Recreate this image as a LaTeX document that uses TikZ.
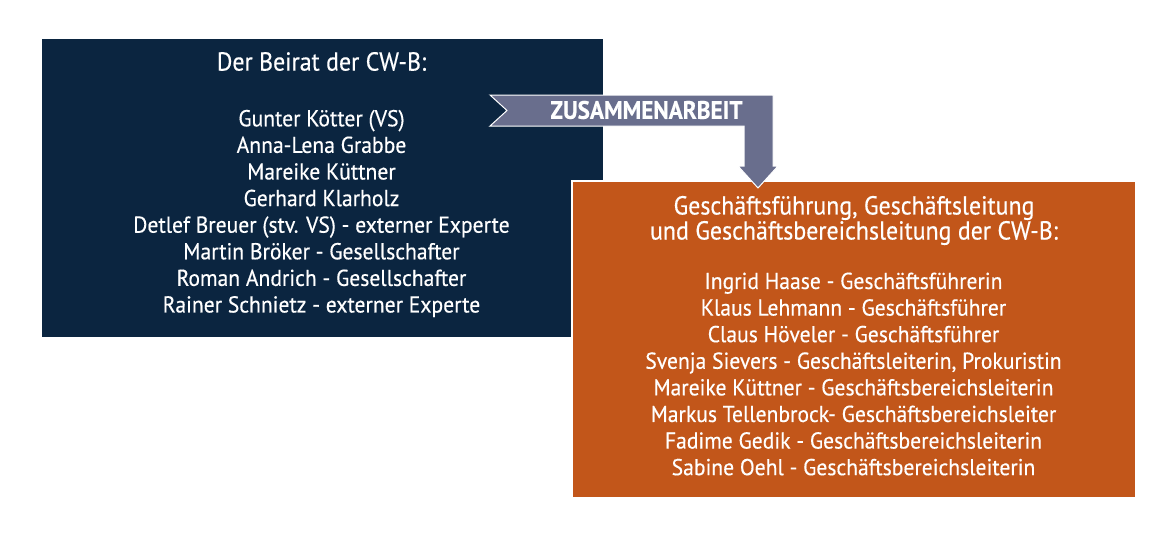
\documentclass[tikz,border=0pt]{standalone}
\usepackage{fontspec}
\setmainfont{PT Sans}[FakeStretch=0.94,FakeBold=0.4]
\newfontfamily\titlefont{PT Sans}[FakeStretch=0.92,FakeBold=0.4]
\definecolor{navy}{HTML}{0B2540}
\definecolor{rust}{HTML}{C2561A}
\definecolor{slate}{HTML}{696E8D}
\tikzset{
  boxtext/.style={text=white, align=center, inner sep=0pt},
  titletext/.style={boxtext, font=\titlefont\fontsize{26}{23}\selectfont},
  listtext/.style={boxtext, font=\fontsize{23}{26.6}\selectfont},
}
\begin{document}
\begin{tikzpicture}[x=1pt,y=-1pt]
\useasboundingbox (0,0) rectangle (1167,543);
% left box
\node[fill=navy, minimum width=561pt, minimum height=298pt, anchor=north west, inner sep=0pt] (beirat) at (42,39) {};
\node[titletext] (beirattitle) at (321.5,61.5) {Der Beirat der CW-B:};
\node[listtext] (beiratlist) at (321.5,213.5) {Gunter Kötter (VS)\\
Anna-Lena Grabbe\\
Mareike Küttner\\
Gerhard Klarholz\\
Detlef Breuer (stv. VS) - externer Experte\\
Martin Bröker - Gesellschafter\\
Roman Andrich - Gesellschafter\\
Rainer Schnietz - externer Experte};
% right box
\node[fill=rust, draw=white, line width=2pt, minimum width=564pt, minimum height=317pt, anchor=north west, inner sep=0pt] (gf) at (571,179.5) {};
\node[titletext] (gftitle) at (854,220.5) {Geschäftsführung, Geschäftsleitung\\und Geschäftsbereichsleitung der CW-B:};
\node[listtext] (gflist) at (853.5,374) {Ingrid Haase - Geschäftsführerin\\
Klaus Lehmann - Geschäftsführer\\
Claus Höveler - Geschäftsführer\\
Svenja Sievers - Geschäftsleiterin, Prokuristin\\
Mareike Küttner - Geschäftsbereichsleiterin\\
Markus Tellenbrock- Geschäftsbereichsleiter\\
Fadime Gedik - Geschäftsbereichsleiterin\\
Sabine Oehl - Geschäftsbereichsleiterin};
% ribbon arrow
\coordinate (tip) at (758,188);
\fill[slate, draw=white, line width=1pt] (490,95) -- (773,95) -- (773,166) -- (778,166) -- (tip) -- (738,166) -- (744,166) -- (744,126) -- (490,126) -- (507,110.5) -- cycle;
\node[boxtext, font=\titlefont\bfseries\fontsize{25.3}{25}\selectfont] (zusammen) at (646.5,110) {ZUSAMMENARBEIT};
\end{tikzpicture}
\end{document}
